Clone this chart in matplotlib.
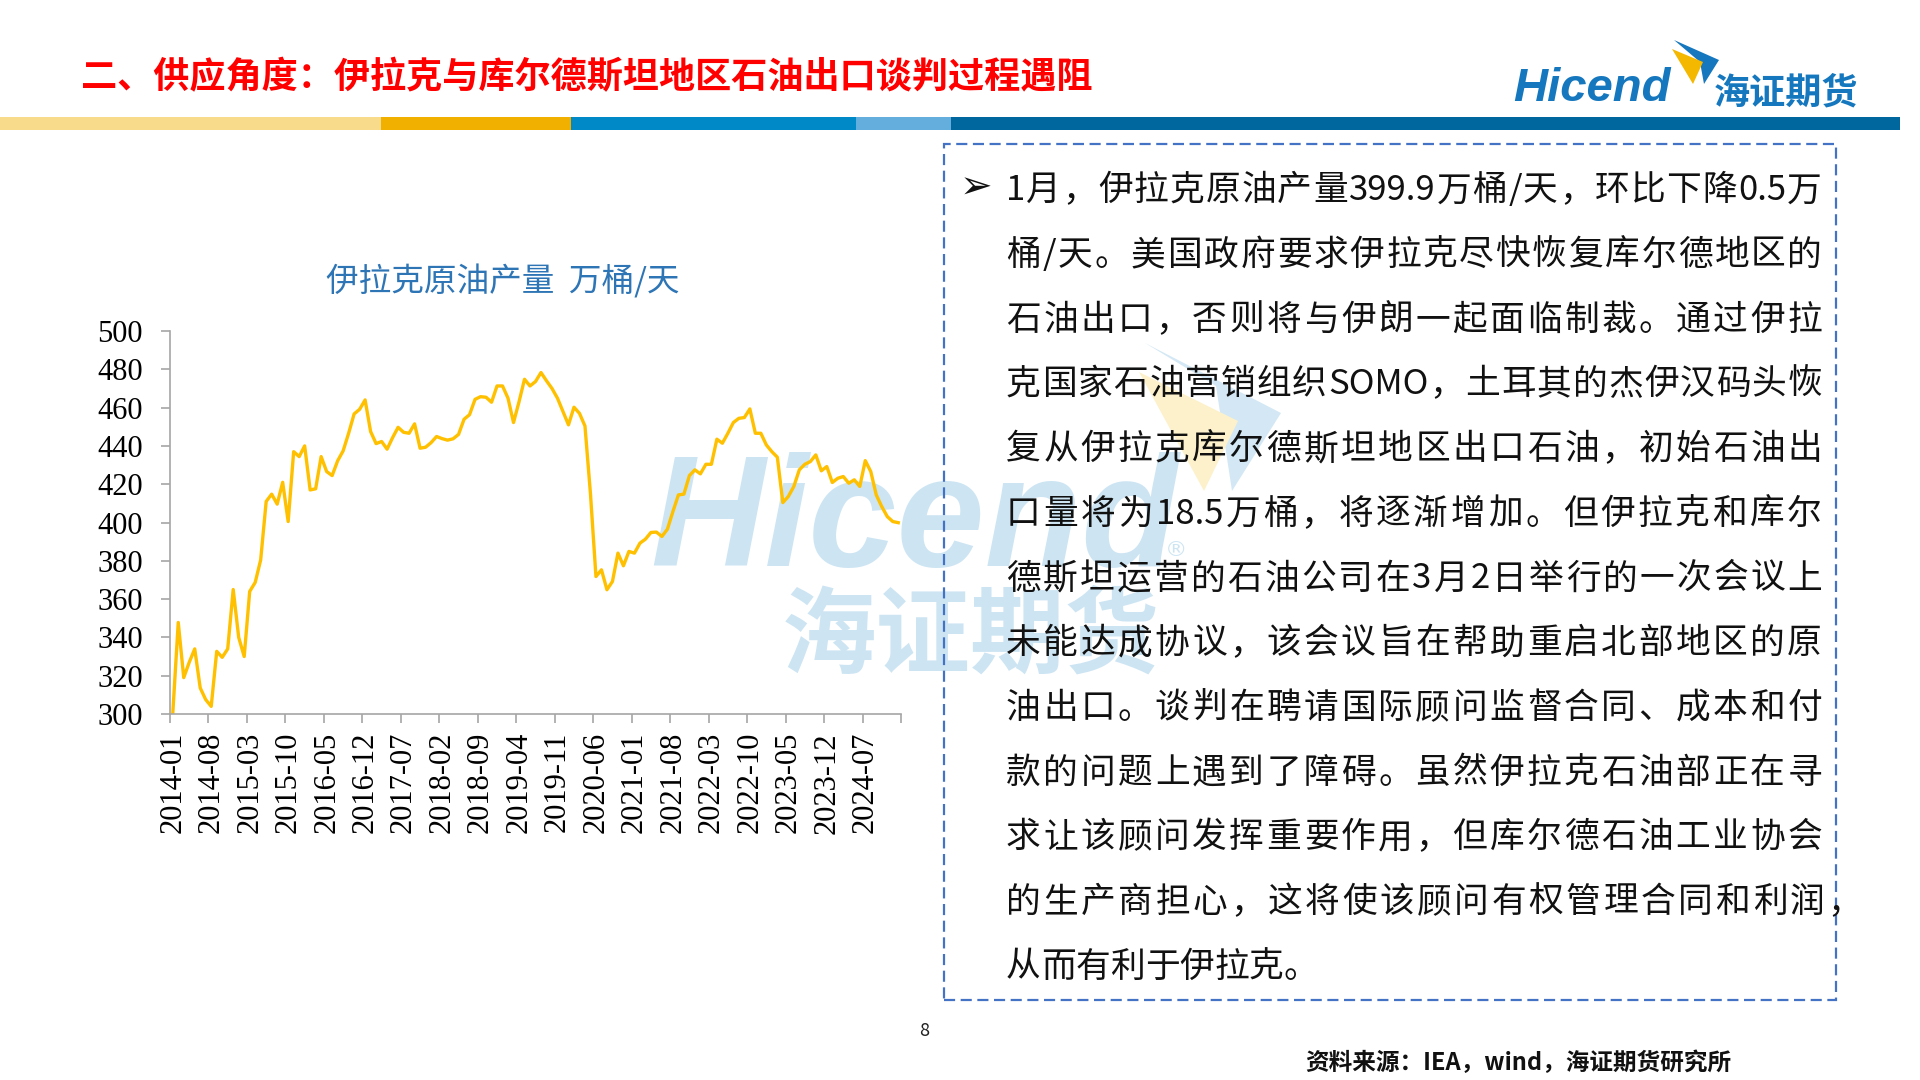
import re
import pandas as pd
import matplotlib
matplotlib.use("Agg")
import matplotlib.pyplot as plt
from matplotlib.patches import Rectangle, Polygon
from matplotlib.font_manager import FontProperties, findfont, get_font

plt.rcParams['font.family'] = ['Noto Sans CJK SC', 'DejaVu Sans']

# 伊拉克原油产量（万桶/天），2014-01 ~ 2025-01
start_month = "2014-01"
production = [
    300.0, 347.8, 319.0, 327.0, 334.0, 313.6, 307.5, 304.0, 332.7, 329.6,
    334.0, 365.0, 340.0, 330.0, 364.0, 368.7, 380.5, 411.0, 414.8, 409.6,
    421.0, 400.5, 437.0, 434.4, 440.0, 417.0, 417.6, 434.4, 426.6, 424.5,
    432.2, 437.4, 446.6, 456.7, 459.1, 464.0, 447.5, 441.2, 442.3, 438.3,
    444.3, 449.7, 447.1, 446.6, 451.5, 438.8, 439.3, 441.7, 444.9, 443.8,
    443.0, 443.7, 446.0, 453.9, 456.3, 464.3, 465.7, 465.4, 462.8, 471.3,
    471.3, 464.9, 452.2, 463.0, 474.8, 471.3, 473.6, 478.3, 474.0, 470.0,
    464.9, 457.9, 451.0, 460.2, 457.0, 450.4, 415.0, 371.8, 375.3, 364.9,
    369.2, 384.0, 377.4, 384.9, 384.0, 389.2, 391.3, 394.8, 395.0, 392.7,
    396.5, 405.7, 414.4, 414.8, 424.5, 427.5, 425.4, 430.4, 430.4, 443.5,
    441.4, 446.6, 452.2, 454.4, 454.8, 459.3, 446.6, 446.6, 440.5, 437.0,
    434.1, 410.4, 413.6, 418.8, 427.5, 430.4, 431.8, 435.3, 427.0, 429.2,
    420.9, 423.1, 424.0, 420.5, 422.3, 418.8, 432.3, 426.6, 414.4, 408.3,
    403.1, 400.5, 399.9,
]
months = pd.period_range(start_month, periods=len(production), freq="M").strftime("%Y-%m")

tick_labels = ["2014-01", "2014-08", "2015-03", "2015-10", "2016-05", "2016-12",
               "2017-07", "2018-02", "2018-09", "2019-04", "2019-11", "2020-06",
               "2021-01", "2021-08", "2022-03", "2022-10", "2023-05", "2023-12",
               "2024-07"]
y_ticks = [300, 320, 340, 360, 380, 400, 420, 440, 460, 480, 500]

title = "二、供应角度：伊拉克与库尔德斯坦地区石油出口谈判过程遇阻"
chart_title = "伊拉克原油产量  万桶/天"
body_lines = [
    "1月，伊拉克原油产量399.9万桶/天，环比下降0.5万",
    "桶/天。美国政府要求伊拉克尽快恢复库尔德地区的",
    "石油出口，否则将与伊朗一起面临制裁。通过伊拉",
    "克国家石油营销组织SOMO，土耳其的杰伊汉码头恢",
    "复从伊拉克库尔德斯坦地区出口石油，初始石油出",
    "口量将为18.5万桶，将逐渐增加。但伊拉克和库尔",
    "德斯坦运营的石油公司在3月2日举行的一次会议上",
    "未能达成协议，该会议旨在帮助重启北部地区的原",
    "油出口。谈判在聘请国际顾问监督合同、成本和付",
    "款的问题上遇到了障碍。虽然伊拉克石油部正在寻",
    "求让该顾问发挥重要作用，但库尔德石油工业协会",
    "的生产商担心，这将使该顾问有权管理合同和利润，",
    "从而有利于伊拉克。",
]
source = "资料来源：IEA，wind，海证期货研究所"

W, H = 1920, 1080
fig = plt.figure(figsize=(19.2, 10.8), dpi=100)


def fx(x):
    return x / W


def fy(y):
    return 1 - y / H


# 顶部标题
fig.text(fx(81), fy(78), title, color="#FF0000", fontsize=26, fontweight="bold",
         ha="left", va="center")

# 彩色分隔条
bar_parts = [(0, 381, "#F8DC8B"), (381, 571, "#F1B000"), (571, 856, "#0089C7"),
             (856, 951, "#63AEDD"), (951, 1900, "#00669E")]
for x0, x1, c in bar_parts:
    fig.add_artist(Rectangle((fx(x0), fy(130)), (x1 - x0) / W, 13 / H,
                             transform=fig.transFigure, fc=c, ec="none"))

# logo
fig.text(fx(1513), fy(101), "Hicend", fontsize=34, family="Liberation Sans",
         fontweight="bold", style="italic", color="#1577BE", ha="left", va="baseline")
fig.text(fx(1714), fy(93), "海证期货", fontsize=26, fontweight="bold",
         color="#1577BE", ha="left", va="center")
fig.add_artist(Polygon([(fx(x), fy(y)) for x, y in [(1674, 40), (1719, 60), (1704, 84), (1700, 62)]],
                       closed=True, transform=fig.transFigure, fc="#1577BE", ec="none"))
fig.add_artist(Polygon([(fx(x), fy(y)) for x, y in [(1672, 49), (1703, 62), (1693, 84)]],
                       closed=True, transform=fig.transFigure, fc="#F5B800", ec="none"))

# 水印
wm = "#CDE5F3"
fig.text(fx(650), fy(566), "Hicend", fontsize=114, family="Liberation Sans",
         fontweight="bold", style="italic", color=wm, ha="left", va="baseline", zorder=-2)
fig.text(fx(1165), fy(550), "®", fontsize=16, family="DejaVu Sans", color=wm,
         ha="left", va="center", zorder=-2)
fig.text(fx(782), fy(638), "海证期货", fontsize=68, fontweight="bold", color=wm,
         ha="left", va="center", zorder=-2)
fig.add_artist(Polygon([(fx(x), fy(y)) for x, y in [(1145, 343), (1281, 413), (1232, 491), (1216, 386)]],
                       closed=True, transform=fig.transFigure, fc="#D3E8F4", ec="none", zorder=-2))
fig.add_artist(Polygon([(fx(x), fy(y)) for x, y in [(1139, 372), (1238, 421), (1204, 491)]],
                       closed=True, transform=fig.transFigure, fc="#FDF1CC", ec="none", zorder=-1))

# 折线图
ax = fig.add_axes([fx(170), fy(714), (901 - 170) / W, (714 - 331) / H])
ax.patch.set_visible(False)
x = list(range(len(production)))
ax.plot(x, production, color="#FFC000", lw=2.4, solid_joinstyle="round")
ax.set_xlim(-0.5, len(production) - 0.5)
ax.set_ylim(300, 500)
ax.set_yticks(y_ticks)
ax.set_yticklabels([str(v) for v in y_ticks])

ax.set_xticks([i - 0.5 for i in range(0, len(production) + 1, 7)])
ax.set_xticklabels([])
label_pos = [list(months).index(lbl) for lbl in tick_labels]
ax.set_xticks(label_pos, minor=True)
ax.set_xticklabels(tick_labels, minor=True, rotation=90)

for s in ["top", "right"]:
    ax.spines[s].set_visible(False)
for s in ["left", "bottom"]:
    ax.spines[s].set_color("#A6A6A6")
    ax.spines[s].set_linewidth(1.2)
ax.tick_params(axis="y", length=6.5, width=1.2, color="#A6A6A6", pad=13, labelsize=22)
ax.tick_params(axis="x", which="major", length=6.5, width=1.2, color="#A6A6A6")
ax.tick_params(axis="x", which="minor", length=0, pad=13, labelsize=22)
plt.setp(ax.get_yticklabels() + ax.get_xticklabels(minor=True), family="Liberation Serif")

fig.text(fx(503), fy(281), chart_title, color="#2E75B6", fontsize=23.5,
         ha="center", va="center")

# 右侧文字框
fig.add_artist(Rectangle((fx(944), fy(1000)), (1836 - 944) / W, (1000 - 144) / H,
                         transform=fig.transFigure, fill=False, ec="#4472C4",
                         lw=1.6, ls=(0, (5, 2.5))))

body_size = 25
ft = get_font(findfont(FontProperties(family="Noto Sans CJK SC")))
ft.set_size(body_size, 100)


def adv(s):
    return sum(ft.load_char(ord(c)).linearHoriAdvance / 65536 for c in s)


text_left = 1006
line_gap = 64.7
first_center = 187.3
for k, line in enumerate(body_lines):
    base = first_center + k * line_gap + 13
    tokens = re.findall(r"[A-Za-z0-9./]+|.", line)
    widths = [adv(t) for t in tokens]
    right = 1862 if line.endswith("，") and k == 11 else 1822
    if k == len(body_lines) - 1:
        gap = 0
    else:
        gap = (right - text_left - sum(widths)) / (len(tokens) - 1)
    pos = text_left
    for t, w in zip(tokens, widths):
        fig.text(fx(pos), fy(base), t, fontsize=body_size, color="#111111",
                 ha="left", va="baseline")
        pos += w + gap

fig.text(fx(960), fy(199), "➢", fontsize=28, family=["DejaVu Sans"],
         color="#111111", ha="left", va="baseline")

fig.text(fx(924), fy(1031), "8", fontsize=13, color="#222222", ha="center", va="center")
fig.text(fx(1305), fy(1063), source, fontsize=17, fontweight="bold", color="#111111",
         ha="left", va="center")

fig.savefig("out.png", dpi=100)
